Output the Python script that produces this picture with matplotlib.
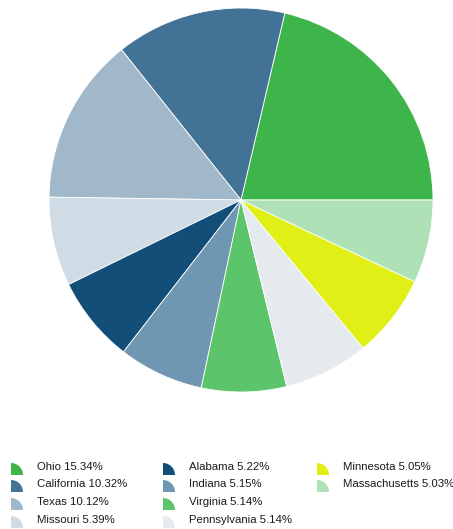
import matplotlib.pyplot as plt
from matplotlib.patches import Wedge

# ==========================
# Data
# ==========================

states = ["Ohio", "California", "Texas", "Missouri", "Alabama",
          "Indiana", "Virginia", "Pennsylvania", "Minnesota", "Massachusetts"]
shares = [15.34, 10.32, 10.12, 5.39, 5.22, 5.15, 5.14, 5.14, 5.05, 5.03]
colors = ["#3db54a", "#427396", "#a0b8c9", "#d0dce5", "#124e78",
          "#6f97b1", "#5cc46b", "#e5eaee", "#e0ef16", "#afe1b7"]

plt.rcParams['font.family'] = ['Liberation Sans', 'DejaVu Sans']

W, H = 453, 529
fig = plt.figure(figsize=(W / 100, H / 100), dpi=100)

# ==========================
# Pie
# ==========================

cx, cy, r = 241, 200, 192
ax = fig.add_axes([(cx - r) / W, (H - cy - r) / H, 2 * r / W, 2 * r / H])
ax.pie(shares, colors=colors, startangle=0, counterclock=True,
       wedgeprops=dict(edgecolor="white", linewidth=0.6))
ax.set_xlim(-1, 1)
ax.set_ylim(-1, 1)
ax.set_aspect("equal")
ax.axis("off")

# ==========================
# Legend (3 columns, quarter-disk markers)
# ==========================

lax = fig.add_axes([0, 0, 1, 1])
lax.set_xlim(0, W)
lax.set_ylim(H, 0)
lax.axis("off")

col_x = [11, 163, 317]
row_y = [475, 492, 510, 528]
for i, (name, val, c) in enumerate(zip(states, shares, colors)):
    col, row = divmod(i, 4)
    x0, y0 = col_x[col], row_y[row]
    lax.add_patch(Wedge((x0, y0), 12, 270, 360, facecolor=c, edgecolor="none"))
    lax.text(x0 + 26, y0 - 8, f"{name} {val:.2f}%", fontsize=8.2,
             color="#1a1a1a", va="center", ha="left")

fig.savefig("out.png", dpi=100)
